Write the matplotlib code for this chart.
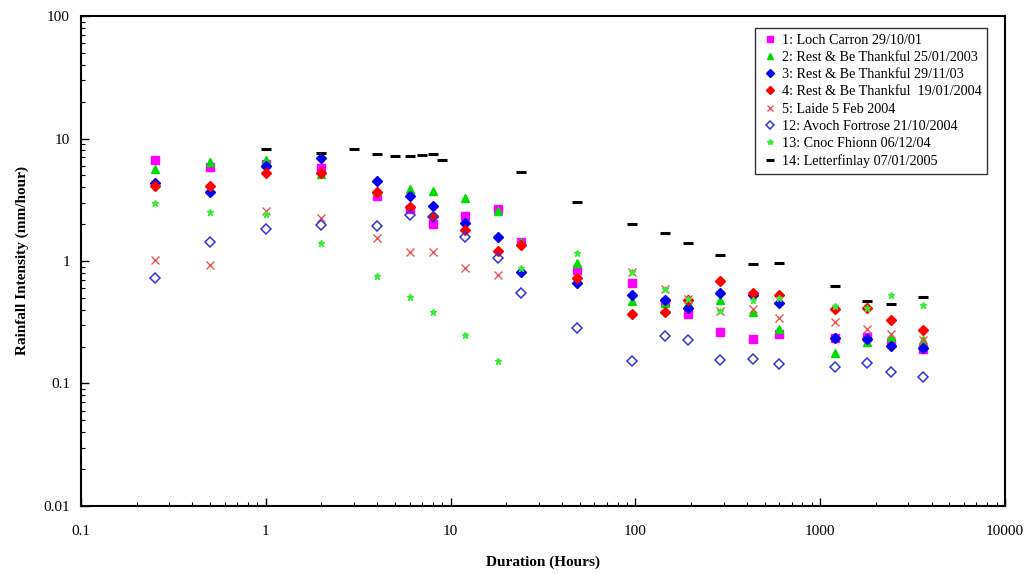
import matplotlib.pyplot as plt
import numpy as np

nan = np.nan

# durations in hours
duration = [ 0.25, 0.5, 1, 2, 4, 6, 8, 12, 18, 24, 48, 96, 144, 192, 288, 432, 600, 1200, 1800, 2400, 3600 ]
duration_letterfinlay = [ 1, 2, 3, 4, 5, 6, 7, 8, 9, 24, 48, 96, 144, 192, 288, 432, 600, 1200, 1800, 2400, 3600 ]

loch_carron = [ 6.67, 5.82, 6.2, 5.78, 3.41, 2.64, 2.0, 2.33, 2.66, 1.42, 0.845, 0.66, 0.46, 0.367, 0.262, 0.23, 0.252, 0.234, 0.239, 0.216, 0.19 ]
rest_2003 = [ 5.64, 6.4, 6.67, 5.1, 3.7, 3.85, 3.73, 3.25, 2.57, 1.42, 0.96, 0.474, 0.45, 0.45, 0.48, 0.38, 0.28, 0.177, 0.22, 0.239, 0.226 ]
rest_nov03 = [ 4.31, 3.68, 5.97, 6.89, 4.5, 3.41, 2.83, 2.03, 1.56, 0.81, 0.66, 0.53, 0.48, 0.41, 0.55, 0.53, 0.45, 0.234, 0.23, 0.202, 0.194 ]
rest_2004 = [ 4.1, 4.1, 5.26, 5.26, 3.68, 2.74, 2.33, 1.79, 1.21, 1.35, 0.72, 0.367, 0.381, 0.48, 0.687, 0.55, 0.53, 0.405, 0.416, 0.33, 0.273 ]
laide = [ 1.02, 0.92, 2.57, 2.23, 1.55, 1.18, 1.18, 0.87, 0.77, nan, nan, 0.81, 0.587, 0.49, 0.39, 0.405, 0.34, 0.32, 0.28, 0.252, 0.226 ]
avoch = [ 0.72, 1.44, 1.81, 1.97, 1.92, 2.39, 2.3, 1.56, 1.05, 0.545, 0.286, 0.153, 0.245, 0.226, 0.155, 0.158, 0.143, 0.137, 0.146, 0.123, 0.112 ]
cnoc = [ 2.96, 2.51, 2.42, 1.39, 0.75, 0.51, 0.385, 0.249, 0.153, 0.87, 1.17, 0.81, 0.587, 0.49, 0.39, 0.48, 0.5, 0.43, 0.416, 0.53, 0.437 ]
letterfinlay = [ 8.2, 7.66, 8.17, 7.47, 7.2, 7.2, 7.38, 7.47, 6.71, 5.33, 3.03, 2.0, 1.70, 1.39, 1.12, 0.945, 0.97, 0.63, 0.47, 0.446, 0.51 ]

labels = [ '1: Loch Carron 29/10/01', '2: Rest & Be Thankful 25/01/2003', '3: Rest & Be Thankful 29/11/03',
	'4: Rest & Be Thankful  19/01/2004', '5: Laide 5 Feb 2004', '12: Avoch Fortrose 21/10/2004',
	'13: Cnoc Fhionn 06/12/04', '14: Letterfinlay 07/01/2005' ]

plt.rcParams['font.family'] = [ 'Liberation Serif', 'DejaVu Serif' ]
fontsize = 11

fig = plt.figure( figsize = (10.35, 5.74), dpi = 100 )
ax = fig.add_axes( [0.0783, 0.1185, 0.8928, 0.8536] )

ax.plot( duration, loch_carron, ls = 'none', marker = 's', ms = 5.5, color = '#ff00ff', mec = '#ff00ff', label = labels[0] )
ax.plot( duration, rest_2003, ls = 'none', marker = '^', ms = 6, color = '#00dd00', mec = '#00dd00', label = labels[1] )
ax.plot( duration, rest_nov03, ls = 'none', marker = 'D', ms = 4.8, color = '#0000ee', mec = '#0000ee', label = labels[2] )
ax.plot( duration, rest_2004, ls = 'none', marker = 'D', ms = 4.8, color = '#ff0000', mec = '#ff0000', label = labels[3] )
ax.plot( duration, laide, ls = 'none', marker = 'x', ms = 5.5, mew = 1.0, color = '#ee5555', label = labels[4] )
ax.plot( duration, avoch, ls = 'none', marker = 'D', ms = 4.8, mfc = 'none', mec = '#3333dd', mew = 1.1, label = labels[5] )
ax.plot( duration, cnoc, ls = 'none', marker = '*', ms = 5, color = '#33ee33', mec = '#33ee33', label = labels[6] )
ax.plot( duration_letterfinlay, letterfinlay, ls = 'none', marker = '_', ms = 7.5, mew = 2.2, color = 'black', label = labels[7] )

ax.set_xscale( 'log' )
ax.set_yscale( 'log' )
ax.set_xlim( 0.1, 10000 )
ax.set_ylim( 0.01, 100 )
ax.set_xticks( [0.1, 1, 10, 100, 1000, 10000] )
ax.set_xticklabels( ['0.1', '1', '10', '100', '1000', '10000'] )
ax.set_yticks( [0.01, 0.1, 1, 10, 100] )
ax.set_yticklabels( ['0.01', '0.1', '1', '10', '100'] )

ax.tick_params( which = 'both', direction = 'in', top = False, right = False, labelsize = fontsize )
ax.tick_params( which = 'major', length = 6, width = 1 )
ax.tick_params( which = 'minor', length = 3, width = 0.8 )
ax.tick_params( axis = 'x', which = 'major', pad = 14 )
ax.tick_params( axis = 'y', which = 'major', pad = 8 )
for s in ax.spines.values():
	s.set_linewidth( 1.5 )

ax.set_xlabel( 'Duration (Hours)', fontsize = fontsize, fontweight = 'bold', labelpad = 12 )
ax.set_ylabel( 'Rainfall Intensity (mm/hour)', fontsize = fontsize, fontweight = 'bold', labelpad = 10 )

leg = ax.legend( loc = 'upper right', bbox_to_anchor = (0.9805, 0.9755), fontsize = 10.2, frameon = True, fancybox = False,
	handlelength = 1.4, handletextpad = 0.1, borderpad = 0.4, labelspacing = 0.3, markerscale = 0.8, borderaxespad = 0 )
leg.get_frame().set_edgecolor( 'black' )
leg.get_frame().set_linewidth( 1.0 )

fig.savefig( 'out.png', dpi = 100 )
plt.close()
